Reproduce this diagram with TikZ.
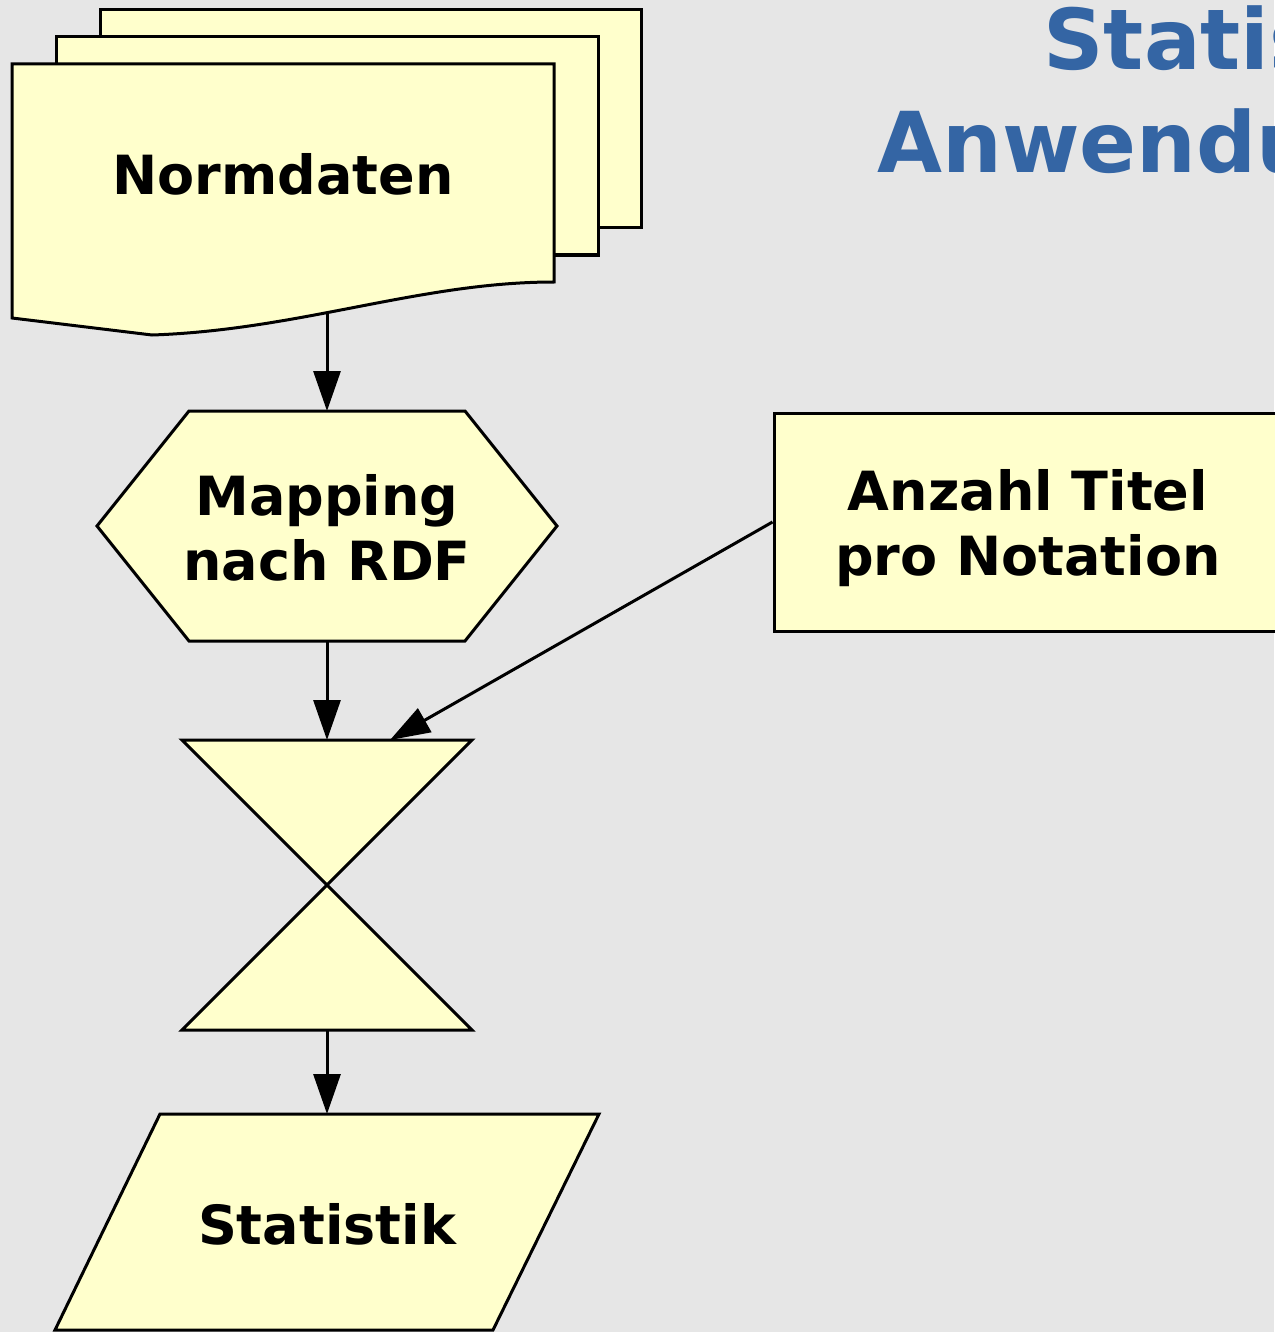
\documentclass[tikz,border=0pt]{standalone}
\usepackage{fontspec}
\setmainfont{DejaVu Sans}
\usetikzlibrary{arrows.meta}

\definecolor{paper}{HTML}{E6E6E6}
\definecolor{chartfill}{HTML}{FFFFCC}
\definecolor{titleblue}{HTML}{3465A4}

\tikzset{
  box/.style={draw=black, fill=chartfill, line width=1.5pt},
  boxtext/.style={font=\bfseries\fontsize{27}{32.5}\selectfont, align=center},
  titletext/.style={font=\bfseries\fontsize{42}{52}\selectfont, text=titleblue, inner sep=0pt},
  flow/.style={line width=1.5pt, -{Triangle[length=20pt,width=13.5pt]}},
}

\begin{document}
\begin{tikzpicture}[x=0.5pt, y=-0.5pt]
  \useasboundingbox (0,0) rectangle (1274,1332);
  \fill[paper] (0,0) rectangle (1274,1332);

  % title (runs off the page)
  \node[titletext, anchor=base west] (title1) at (1043,70) {Statistik};
  \node[titletext, anchor=base west] (title2) at (877,173) {Anwendung};

  % stack of documents
  \draw[box] (100,10) rectangle (641,228);
  \draw[box] (56,37) rectangle (598,255);
  \draw[box] (12,64) -- (554,64) -- (554,282)
    .. controls (420,282) and (300,330) .. (152,335) -- (12,318) -- cycle;
  \node[boxtext] (normdaten) at (283,174) {Normdaten};
  \coordinate (normdaten-s) at (327,312);

  % preparation
  \draw[box] (189,411) -- (465,411) -- (557,526) -- (465,641)
    -- (189,641) -- (97,526) -- cycle;
  \node[boxtext] (mapping) at (327,528) {Mapping\\nach RDF};
  \coordinate (mapping-n) at (327,411);
  \coordinate (mapping-s) at (327,641);

  % collate
  \draw[box] (182,740) -- (472,740) -- (182,1030) -- (472,1030) -- cycle;
  \coordinate (merge-n) at (327,740);
  \coordinate (merge-ne) at (390,740);
  \coordinate (merge-s) at (327,1030);

  % process
  \node[box, boxtext, minimum width=254pt, minimum height=109pt, text depth=0pt]
    (count) at (1028,522) {Anzahl Titel\\pro Notation};

  % data
  \draw[box] (160,1114) -- (599,1114) -- (493,1330) -- (55,1330) -- cycle;
  \node[boxtext] (statistik) at (327,1224) {Statistik};
  \coordinate (statistik-n) at (327,1114);

  \draw[flow] (normdaten-s) -- (mapping-n);
  \draw[flow] (mapping-s) -- (merge-n);
  \draw[flow] (count.west) -- (merge-ne);
  \draw[flow] (merge-s) -- (statistik-n);
\end{tikzpicture}
\end{document}
